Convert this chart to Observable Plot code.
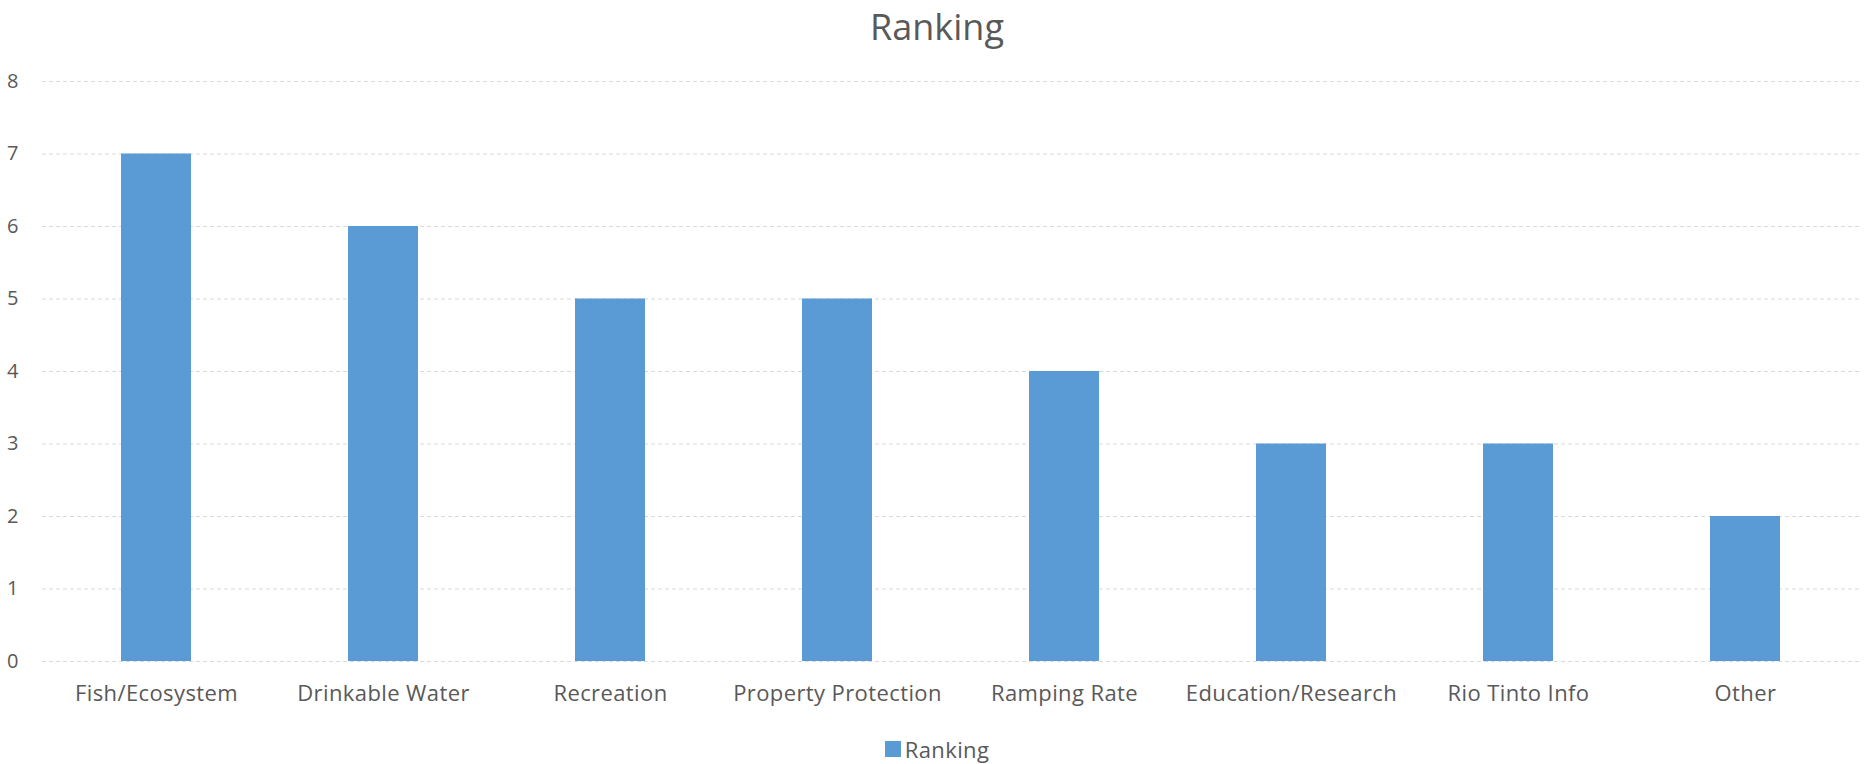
<!DOCTYPE html>
<html>
<head>
<meta charset="utf-8">
<script src="https://cdn.jsdelivr.net/npm/d3@7"></script>
<script src="https://cdn.jsdelivr.net/npm/@observablehq/plot@0.6"></script>
<style>
  html, body { margin: 0; padding: 0; background: #fff; }
  body { width: 1874px; height: 764px; overflow: hidden; font-family: "Open Sans", sans-serif; color: #595959; }
  #title { height: 60px; line-height: 54px; text-align: center; font-size: 36px; color: #595959; }
  #legend { height: 39px; display: flex; justify-content: center; align-items: center; font-size: 22px; letter-spacing: 0.4px; color: #595959; padding-top: 8px; box-sizing: border-box; }
  #legend .sw { width: 16px; height: 16px; background: #5b9bd5; margin-right: 4px; }
  .xax text { letter-spacing: 0.4px; }
</style>
</head>
<body>
<div id="title">Ranking</div>
<div id="chart"></div>
<div id="legend"><span class="sw"></span><span>Ranking</span></div>
<script>
const categories = ["Fish/Ecosystem", "Drinkable Water", "Recreation", "Property Protection", "Ramping Rate", "Education/Research", "Rio Tinto Info", "Other"];
const values = [7, 6, 5, 5, 4, 3, 3, 2];
const yTicks = [0, 1, 2, 3, 4, 5, 6, 7, 8];

const data = categories.map((c, i) => ({category: c, value: values[i]}));

const plot = Plot.plot({
  width: 1874,
  height: 665,
  marginTop: 21,
  marginBottom: 64,
  marginLeft: 42,
  marginRight: 14,
  style: {fontFamily: "Open Sans, sans-serif", color: "#595959", background: "#fff"},
  x: {domain: categories, paddingInner: 0.69, paddingOuter: 0.345, label: null},
  y: {domain: [0, 8], label: null},
  marks: [
    Plot.ruleY(yTicks, {stroke: "#d9d9d9", strokeWidth: 1, strokeDasharray: "4,3"}),
    Plot.barY(data, {x: "category", y: "value", fill: "#5b9bd5"}),
    Plot.axisY({ticks: yTicks, tickSize: 0, tickPadding: 24, fontSize: 20, fill: "#595959", label: null}),
    Plot.axisX({tickSize: 0, tickPadding: 24, fontSize: 22, fill: "#595959", label: null, className: "xax"})
  ]
});
document.getElementById("chart").appendChild(plot);
</script>
</body>
</html>
